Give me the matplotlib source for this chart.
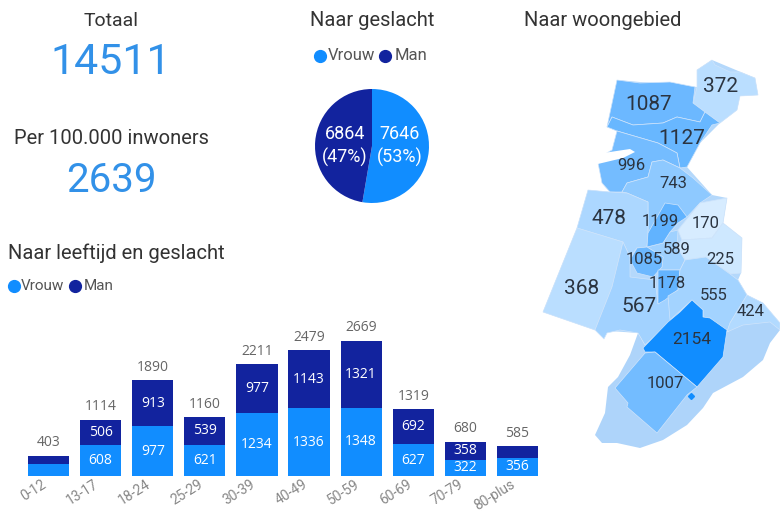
import matplotlib
matplotlib.use("Agg")
import matplotlib.pyplot as plt
from matplotlib.colors import LinearSegmentedColormap, PowerNorm
from matplotlib.patches import Polygon
from matplotlib.transforms import ScaledTranslation

plt.rcParams['font.family'] = ['Roboto', 'DejaVu Sans']

# ---- data ----
age_groups = ['0-12', '13-17', '18-24', '25-29', '30-39', '40-49', '50-59', '60-69', '70-79', '80-plus']
vrouw = [233, 608, 977, 621, 1234, 1336, 1348, 627, 322, 356]
man = [170, 506, 913, 539, 977, 1143, 1321, 692, 358, 229]
totals = [403, 1114, 1890, 1160, 2211, 2479, 2669, 1319, 680, 585]
gender_values = [7646, 6864]
gender_labels = ['7646\n(53%)', '6864\n(47%)']

region_values = [372, 1087, 1127, 996, 743, 478, 368, 567, 170, 225, 589, 1199, 1085, 1178, 555, 424, 2154, 1007]
region_outlines = [
    [(697,70),(712,60),(715,65),(730,72),(740,72),(755,78),(758,95),(740,96),(737,110),(720,123),(705,112),(693,103),(697,87)],
    [(617,80),(640,83),(670,82),(695,87),(693,103),(705,112),(700,122),(677,117),(663,123),(633,125),(612,117),(607,127)],
    [(607,127),(612,117),(633,125),(663,123),(677,117),(700,122),(705,112),(720,123),(712,125),(700,143),(687,167),(680,168),(677,153),(658,143),(617,131)],
    [(617,131),(612,150),(598,158),(598,163),(602,183),(610,192),(622,192),(627,183),(648,177),(652,162),(663,160),(680,168),(677,153),(658,143)],
    [(652,162),(663,160),(680,168),(693,178),(712,195),(700,203),(687,217),(678,223),(670,232),(648,233),(648,202),(627,193),(622,192),(627,183),(648,177)],
    [(588,190),(610,192),(627,193),(648,202),(648,233),(647,247),(637,248),(630,257),(623,242),(577,228)],
    [(577,228),(623,242),(612,287),(595,330),(543,312)],
    [(623,242),(630,257),(630,277),(655,280),(658,304),(668,296),(672,320),(645,345),(638,333),(620,330),(607,333),(604,339),(595,330),(612,287)],
    [(678,230),(700,203),(727,198),(723,223),(712,238),(682,240)],
    [(682,240),(712,238),(723,223),(742,238),(741,273),(730,274),(706,257),(685,260),(677,247)],
    [(647,247),(663,243),(670,232),(678,230),(677,247),(685,260),(680,270),(658,270),(662,267),(663,257)],
    [(665,203),(678,205),(687,217),(678,223),(670,232),(663,243),(647,247),(648,233)],
    [(637,248),(647,247),(663,257),(662,267),(653,277),(637,273),(630,260)],
    [(658,270),(680,270),(678,290),(665,300),(658,304)],
    [(685,260),(706,257),(730,274),(738,280),(747,295),(730,323),(727,332),(710,318),(703,317),(703,310),(692,300),(670,320),(668,296),(678,290),(680,270)],
    [(747,295),(763,303),(780,323),(780,330),(770,322),(743,325),(727,332),(730,323)],
    [(692,300),(703,310),(703,317),(710,318),(727,330),(723,357),(697,387),(655,352),(645,352),(643,348),(668,322),(680,312)],
    [(645,353),(655,352),(697,387),(687,395),(657,433),(627,407),(628,403),(615,388)],
]
region_label_xy = [(721,87),(649,104),(682,139),(631,165),(673,184),(609,218),(582,288),(639,306),(706,223),(720,260),
                   (677,250),(660,222),(644,260),(667,284),(714,295),(751,312),(692,340),(665,384)]
region_label_size = [15,15,15,12,12,15,15,15,12,12,12,12,12,12,12,12,12.5,12]
backing_outline = [(617,80),(697,87),(697,70),(712,60),(755,78),(758,95),(740,96),(737,110),(720,123),(700,143),(687,167),
                   (712,195),(727,198),(723,223),(742,238),(741,273),(738,280),(747,295),(763,303),(780,323),(780,330),
                   (638,333),(595,330),(543,312),(577,228),(588,190),(610,192),(602,183),(598,160),(612,150),(617,131),(607,127)]
south_outline = [(638,333),(630,355),(618,377),(608,387),(605,413),(595,435),(602,443),(617,443),(640,448),(663,440),
                 (687,425),(703,408),(713,393),(743,377),(763,360),(770,343),(780,330),(770,322),(743,325),(727,332),(692,300),(645,345)]
inlet_outline = [(582,160),(590,155),(630,149),(635,152),(623,158),(602,163),(585,167)]

VROUW = '#118DFF'
MAN = '#12239E'
W, H = 780, 515

fig = plt.figure(figsize=(W/100, H/100), dpi=100, facecolor='white')

def px_axes(l, t, r, b):
    return fig.add_axes([l/W, 1-b/H, (r-l)/W, (b-t)/H])

ov = fig.add_axes([0, 0, 1, 1])
ov.set_xlim(0, W); ov.set_ylim(H, 0); ov.axis('off')

# ---- map ----
cmap = LinearSegmentedColormap.from_list('b', ['#ffffff', VROUW])
norm = PowerNorm(0.7, vmin=0, vmax=max(region_values))
ov.add_patch(Polygon(backing_outline, closed=True, fc='#b4d8fb', ec='none', zorder=0.5))
ov.add_patch(Polygon(south_outline, closed=True, fc='#aed4fa', ec='none', zorder=1))
for v, o in zip(region_values, region_outlines):
    ov.add_patch(Polygon(o, closed=True, fc=cmap(norm(v)), ec='#cfe4fb', lw=0.5, zorder=2))
ov.add_patch(Polygon(inlet_outline, closed=True, fc='white', ec='none', zorder=3))
ov.plot([691], [396], marker='D', ms=3, color=VROUW, zorder=3)
for v, (x, y), s in zip(region_values, region_label_xy, region_label_size):
    ov.text(x, y, str(v), fontsize=s, color='#2b3440', ha='center', va='center', zorder=4)

# ---- headline texts ----
dark = '#333333'
ov.text(111, 21, 'Totaal', fontsize=14, color=dark, ha='center', va='center')
ov.text(111, 63, '14511', fontsize=31, color='#3291e8', ha='center', va='center')
ov.text(111, 139, 'Per 100.000 inwoners', fontsize=14.5, color=dark, ha='center', va='center')
ov.text(111, 180, '2639', fontsize=29, color='#3291e8', ha='center', va='center')
ov.text(372, 21, 'Naar geslacht', fontsize=14.5, color=dark, ha='center', va='center')
ov.text(603, 21, 'Naar woongebied', fontsize=14.5, color=dark, ha='center', va='center')
ov.text(8, 253, 'Naar leeftijd en geslacht', fontsize=14.5, color=dark, ha='left', va='center')

# ---- legends ----
for (dx, tx, col, lab, y, fs) in [(320, 328, VROUW, 'Vrouw', 56, 12), (385, 395, MAN, 'Man', 56, 12),
                                  (14, 21, VROUW, 'Vrouw', 286, 11), (75, 84, MAN, 'Man', 286, 11)]:
    ov.plot([dx], [y], 'o', ms=8.5, color=col)
    ov.text(tx, y, lab, fontsize=fs, color='#555555', ha='left', va='center')

# ---- pie ----
pa = px_axes(312, 86, 432, 206)
pa.pie(gender_values, colors=[VROUW, MAN], startangle=90, counterclock=False, radius=1)
pa.set_xlim(-60/57, 60/57); pa.set_ylim(-60/57, 60/57)
ov.text(400, 146, gender_labels[0], fontsize=13, color='white', ha='center', va='center', zorder=5, linespacing=1.3)
ov.text(345, 146, gender_labels[1], fontsize=13, color='white', ha='center', va='center', zorder=5, linespacing=1.3)
pa.set_zorder(1); ov.set_zorder(2); ov.patch.set_alpha(0)

# ---- bars ----
ba = px_axes(22.5, 324, 543.5, 476)
ba.set_zorder(1)
x = range(len(age_groups))
ba.bar(x, vrouw, width=0.79, color=VROUW)
ba.bar(x, man, width=0.79, bottom=vrouw, color=MAN)
ba.set_xlim(-0.5, 9.5); ba.set_ylim(0, 152/0.0507)
for s in ba.spines.values():
    s.set_visible(False)
ba.set_yticks([])
ba.set_xticks(list(x))
ba.set_xticklabels(age_groups, rotation=32, ha='right', va='top', rotation_mode='anchor', fontsize=10, color='#888888')
ba.tick_params(axis='x', length=0, pad=1)
shift = ScaledTranslation(-5/72, 0, fig.dpi_scale_trans)
for lab in ba.get_xticklabels():
    lab.set_transform(lab.get_transform() + shift)
for i in x:
    if vrouw[i] >= 300:
        ba.text(i, vrouw[i]/2, str(vrouw[i]), color='white', ha='center', va='center', fontsize=10, family='Open Sans')
    if man[i] >= 300:
        ba.text(i, vrouw[i]+man[i]/2, str(man[i]), color='white', ha='center', va='center', fontsize=10, family='Open Sans', weight='medium')
    ba.text(i, totals[i]+105, str(totals[i]), color='#666666', ha='center', va='bottom', fontsize=10, family='Open Sans')

fig.savefig('out.png', dpi=100)
